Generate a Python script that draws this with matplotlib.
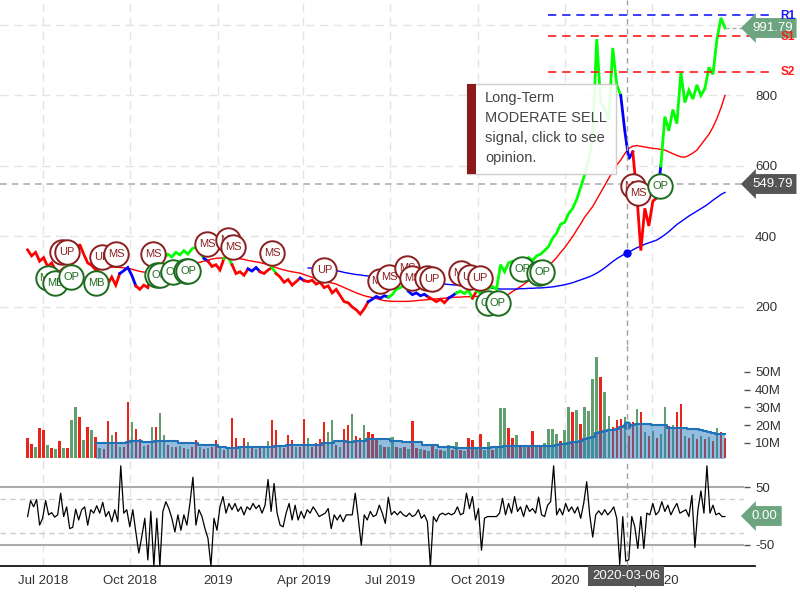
import numpy as np
import pandas as pd
import matplotlib
matplotlib.use('Agg')
import matplotlib.pyplot as plt
from matplotlib.patches import Rectangle

plt.rcParams['font.family'] = ['Liberation Sans', 'DejaVu Sans']
plt.rcParams['axes.unicode_minus'] = False

START, END = '2018-06-15', '2020-06-17'

# closing price, one value every ~3 trading days
price = [362, 345, 355, 330, 340, 315, 325, 305, 300, 310,
         298, 320, 345, 378, 350, 325, 318, 305, 298, 290,
         265, 285, 262, 295, 303, 312, 290, 260, 250, 262,
         255, 300, 330, 345, 338, 350, 342, 355, 348, 360,
         350, 365, 370, 355, 338, 330, 315, 320, 305, 338,
         342, 320, 295, 300, 290, 308, 302, 312, 300, 295,
         305, 312, 295, 285, 270, 278, 262, 272, 282, 275,
         272, 276, 265, 270, 255, 260, 240, 250, 232, 215,
         212, 200, 192, 180, 195, 215, 222, 230, 225, 232,
         228, 235, 250, 255, 262, 245, 235, 240, 232, 236,
         228, 222, 215, 222, 212, 225, 232, 240, 245, 238,
         248, 225, 245, 240, 255, 252, 258, 250, 320, 300,
         325, 330, 318, 335, 325, 340, 332, 345, 350, 360,
         372, 395, 410, 435, 440, 465, 480, 505, 540, 575,
         620, 680, 960, 780, 760, 730, 935, 830, 800, 700,
         620, 640, 520, 360, 480, 430, 500, 510, 600, 740,
         700, 760, 720, 865, 780, 815, 790, 830, 800, 820,
         880, 860, 960, 1020, 991.79]

# signal state: S = sell, H = hold, B = buy  (run lengths)
signal_runs = [('S', 23), ('H', 4), ('S', 4), ('B', 13), ('H', 1), ('S', 4),
               ('B', 2), ('S', 4), ('H', 3), ('S', 3), ('B', 1), ('S', 6),
               ('H', 1), ('S', 16), ('H', 5), ('B', 5), ('H', 5), ('S', 5),
               ('H', 2), ('B', 4), ('S', 1), ('B', 36), ('H', 3), ('S', 6),
               ('H', 1), ('B', 17)]

# 50-day average from sample 18, 200-day average from sample 70
ma50 = [315, 315, 314, 313, 313, 312, 311, 310, 307, 304,
        301, 299, 299, 300, 302, 304, 306, 309, 312, 315,
        318, 320, 322, 324, 325, 327, 330, 333, 336, 338,
        339, 339, 339, 339, 338, 337, 335, 332, 330, 328,
        326, 323, 320, 316, 312, 308, 305, 302, 300, 298,
        296, 292, 288, 284, 280, 277, 273, 270, 268, 265,
        260, 255, 250, 245, 240, 236, 232, 229, 227, 224,
        221, 218, 217, 216, 216, 216, 216, 216, 217, 218,
        219, 220, 221, 222, 223, 224, 225, 226, 227, 228,
        228, 229, 229, 230, 230, 231, 231, 230, 229, 227,
        226, 230, 236, 244, 251, 258, 266, 274, 283, 292,
        300, 309, 318, 328, 340, 355, 368, 384, 400, 418,
        436, 455, 470, 485, 505, 525, 545, 565, 585, 603,
        617, 635, 650, 656, 658, 656, 654, 652, 650, 649,
        647, 645, 640, 635, 630, 626, 625, 630, 637, 645,
        660, 675, 690, 710, 735, 765, 800]
ma200 = [311, 310, 309, 308, 307, 306, 304, 303, 301, 298,
         296, 294, 292, 291, 289, 288, 287, 285, 284, 283,
         282, 281, 280, 279, 278, 277, 276, 274, 272, 270,
         269, 268, 267, 266, 265, 264, 263, 262, 261, 260,
         259, 258, 257, 256, 255, 254, 253, 252, 251, 251,
         251, 251, 251, 252, 252, 253, 253, 254, 254, 255,
         256, 257, 259, 261, 263, 266, 269, 273, 277, 281,
         285, 290, 296, 303, 311, 320, 329, 337, 344, 350,
         355, 362, 368, 373, 378, 382, 386, 390, 397, 405,
         414, 424, 434, 442, 450, 458, 465, 472, 479, 486,
         494, 503, 511, 519, 525]

# volume in millions, same sampling as price
volume = [12.8, 9.4, 7.9, 18.5, 17.4, 9.1, 7.0, 6.5, 11.1, 7.4,
          7.0, 23.0, 30.1, 24.5, 11.5, 18.8, 17.4, 13.2, 7.0, 6.5,
          22.4, 14.4, 16.0, 8.0, 7.5, 32.9, 22.0, 17.8, 12.3, 8.5,
          9.0, 18.8, 18.8, 26.7, 14.4, 9.0, 8.0, 7.9, 8.5, 7.0,
          6.5, 8.0, 11.5, 7.5, 6.5, 7.0, 8.0, 11.5, 7.0, 6.0,
          6.5, 23.9, 12.6, 8.0, 12.6, 10.7, 7.0, 6.5, 7.5, 8.0,
          11.0, 23.0, 17.4, 8.0, 7.0, 14.4, 11.5, 7.5, 8.0, 23.6,
          12.6, 8.0, 9.8, 12.1, 21.7, 16.0, 23.0, 9.0, 8.0, 18.0,
          19.9, 26.2, 13.9, 12.6, 20.1, 16.0, 15.0, 12.6, 9.0, 8.0,
          7.5, 13.6, 8.0, 7.0, 7.5, 6.5, 22.4, 7.0, 6.5, 6.0,
          5.5, 9.0, 6.5, 6.0, 5.5, 9.0, 6.0, 10.4, 6.0, 5.5,
          12.6, 11.5, 6.5, 15.1, 6.0, 10.4, 6.0, 7.0, 29.5, 29.5,
          18.3, 12.6, 14.4, 8.0, 7.5, 8.0, 16.6, 8.5, 9.0, 10.0,
          17.8, 17.8, 14.8, 11.0, 17.4, 30.1, 27.7, 28.6, 20.6, 30.5,
          28.2, 45.9, 58.6, 47.3, 39.0, 25.2, 19.2, 23.0, 23.4, 24.9,
          14.0, 22.1, 29.0, 27.7, 16.0, 14.0, 17.0, 13.0, 15.0, 30.1,
          19.7, 20.3, 27.7, 31.8, 14.0, 13.0, 15.0, 12.0, 14.0, 12.0,
          13.5, 11.0, 18.3, 16.3, 13.0]
# g = up day, r = down day
day_dir = ("rrgrrgrgrg" "rggrgrgrgr" "rgrgrrgrrg" "rgrggrgrgr" "grrgrgrrgr"
           "grrgrgrgrg" "grrgrrrgrr" "grrrrggrgr" "rgrrgrrrgr" "ggrgrgrrgr"
           "grgrggrgrg" "rrgrggrggg" "rrgrgrrgrg" "gggrggrgrg" "gggrggrrrg"
           "rrgrgrgrgg" "rgrrgrgrgr" "grgrr")
# volume average from sample 17
vol_ma = [9.8, 9.8, 9.8, 9.8, 9.8, 9.8, 9.8, 9.8, 10.8, 11.3,
          11.3, 11.3, 10.8, 10.4, 10.4, 11.1, 11.1, 11.1, 11.1, 11.1,
          11.1, 9.8, 9.8, 9.8, 9.8, 9.8, 8.9, 8.9, 8.9, 8.9,
          8.9, 7.9, 7.9, 7.0, 7.0, 7.0, 7.6, 7.6, 7.6, 7.6,
          7.6, 7.6, 7.6, 7.6, 7.6, 8.3, 8.3, 8.3, 8.7, 8.7,
          8.7, 8.7, 8.7, 8.7, 8.7, 8.7, 8.7, 10.2, 10.2, 10.2,
          11.0, 11.0, 11.0, 10.4, 10.4, 11.3, 11.3, 11.3, 12.1, 12.1,
          12.1, 12.1, 12.1, 12.1, 11.3, 11.3, 11.3, 10.4, 10.4, 10.4,
          10.4, 10.4, 8.9, 8.9, 8.9, 8.9, 7.9, 7.9, 7.9, 7.9,
          7.0, 7.0, 7.0, 7.0, 7.0, 7.0, 7.0, 7.0, 7.0, 7.6,
          7.6, 7.6, 8.3, 8.3, 8.3, 8.3, 8.3, 8.3, 8.5, 8.5,
          8.5, 8.5, 8.5, 8.5, 8.5, 9.0, 9.3, 9.6, 10.0, 10.4,
          10.8, 11.3, 12.0, 12.6, 13.5, 15.5, 16.3, 16.8, 17.4, 17.6,
          17.8, 18.8, 19.5, 20.0, 20.4, 20.6, 20.6, 20.6, 20.5, 20.3,
          20.3, 20.3, 20.0, 18.2, 18.2, 18.2, 18.2, 18.2, 18.0, 17.8,
          17.8, 17.6, 17.0, 16.3, 15.5, 14.8, 14.8, 14.8]

# momentum oscillator, one value every ~2 trading days
osc = [-1, 27, 16, 29, -16, -4, 27, 2, 6, -2, 2, 40, -1, 16, -22, -20, 12, -7, 11, 16,
       -16, 11, 5, 18, 5, 24, -1, 8, -10, 11, -10, 88, 5, 11, -19, 11, -28, -65, -36, -4,
       -77, 8, -88, -4, -88, 8, 25, 13, -4, -28, 2, -25, 2, -16, 22, 68, -16, 11, -1, -22,
       -39, -88, -4, -25, 16, 34, 5, 22, 11, 22, 8, 16, 2, 16, 11, 22, 13, 19, 5, 19,
       64, 8, 57, 5, -16, -19, 5, 22, -7, 19, -7, 8, -4, 11, 5, 16, 8, -1, 2, 5,
       13, -22, 2, -7, 2, -10, 2, 2, 2, 40, -4, -51, 2, -7, 8, -1, 2, 19, 5, -13,
       33, 2, 8, 2, 8, 2, -1, 5, -1, 2, 11, -4, 2, -10, -88, -1, -10, 2, 5, 2,
       5, 2, 5, 16, 2, 5, 40, 13, 34, -7, 13, -60, -4, -1, -1, -1, -1, 5, 31, 2,
       22, 5, 34, 8, 16, -1, 19, 8, 13, 5, 33, 2, -1, 19, 25, 88, 2, 13, 2, 22,
       8, 16, 5, 16, -4, 22, 60, 2, -37, 2, 9, 2, 11, 2, 8, 16, -4, -85, -1, -79,
       -77, -1, -19, -57, -1, -57, 5, 2, 22, 2, 8, 25, 8, 19, 2, 13, 22, 5, 8, 11,
       -1, 36, -55, 11, 44, 5, 88, 5, 19, 2, 5, -1, -1]

# opinion markers
marker_dates = ['2018-07-06', '2018-07-14', '2018-07-21', '2018-07-26', '2018-07-31',
                '2018-08-26', '2018-09-01', '2018-09-16', '2018-10-25', '2018-10-29',
                '2018-11-01', '2018-11-15', '2018-11-29', '2018-12-01', '2018-12-21',
                '2019-01-12', '2019-01-17', '2019-02-27', '2019-04-23', '2019-06-20',
                '2019-06-30', '2019-07-19', '2019-07-24', '2019-08-09', '2019-08-14',
                '2019-09-14', '2019-09-23', '2019-10-03', '2019-10-12', '2019-10-22',
                '2019-11-17', '2019-12-05', '2019-12-08', '2020-03-12', '2020-03-18',
                '2020-04-10']
marker_prices = [282, 268, 356, 356, 285, 268, 342, 350, 350, 291,
                 291, 299, 302, 302, 379, 390, 370, 353, 305, 274,
                 285, 311, 282, 282, 279, 296, 285, 282, 211, 211,
                 308, 296, 299, 543, 523, 543]
marker_labels = ['MB', 'MB', 'UP', 'UP', 'OP', 'MB', 'UP', 'MS', 'MS', 'OP',
                 'OP', 'OP', 'OP', 'OP', 'MS', 'MS', 'MS', 'MS', 'UP', 'MS',
                 'MS', 'MS', 'MS', 'UP', 'UP', 'MS', 'UP', 'UP', 'OP', 'OP',
                 'OP', 'OP', 'OP', 'MS', 'MS', 'OP']

levels = [('R1', 1027), ('S1', 968), ('S2', 866)]
last_price = 991.79
cross_price = 549.79
cross_date = '2020-03-06'
cross_ma200 = 353
cross_vol_ma = 20.1

quarters = ['2018-07-01', '2018-10-01', '2019-01-01', '2019-04-01',
            '2019-07-01', '2019-10-01', '2020-01-01', '2020-04-01']
quarter_labels = ['Jul 2018', 'Oct 2018', '2019', 'Apr 2019',
                  'Jul 2019', 'Oct 2019', '2020', 'Apr 2020']

# ---------------------------------------------------------------
days = pd.date_range(START, END, periods=len(price))
osc_days = pd.date_range(START, END, periods=len(osc))
qd = pd.to_datetime(quarters)
cd = pd.Timestamp(cross_date)
x0, x1 = pd.Timestamp('2018-05-17'), pd.Timestamp('2020-07-07')

W = 744 / 800
fig = plt.figure(figsize=(8, 6), dpi=100)
ax_p = fig.add_axes([0, 1 - 345 / 600, W, 345 / 600])
ax_v = fig.add_axes([0, 1 - 458 / 600, W, 113 / 600])
ax_o = fig.add_axes([0, 1 - 566 / 600, W, 106 / 600])

GRID = '#e4e4e4'
for ax in (ax_p, ax_v, ax_o):
    ax.set_facecolor('none')
    ax.set_xlim(x0, x1)
    for s in ax.spines.values():
        s.set_visible(False)
    for d in qd:
        ax.axvline(d, color=GRID, lw=1, ls=(0, (6, 4)), zorder=0)
    ax.axvline(cd, color='#a0a0a0', lw=1, ls=(0, (4, 3)), zorder=6)
    ax.tick_params(axis='x', bottom=False, labelbottom=False)
    ax.yaxis.tick_right()

# ---- price panel
ax_p.set_ylim(92.2, 1070.9)
for v in [200, 400, 600, 800, 1000]:
    ax_p.axhline(v, color=GRID, lw=1, ls=(0, (6, 4)), zorder=0)
ax_p.set_yticks([200, 400, 600, 800])
ax_p.tick_params(axis='y', length=0, pad=8, labelsize=9.5, labelcolor='#333333')

ax_p.plot(days[18:], ma50, color='#ff0000', lw=1, zorder=3)
ax_p.plot(days[70:], ma200, color='#0000ff', lw=1, zorder=3)

sig = ''.join(k * n for k, n in signal_runs)
sig_color = {'S': '#ff0000', 'H': '#0000ff', 'B': '#00ff00'}
start = 0
for k in range(1, len(sig) + 1):
    if k == len(sig) or sig[k] != sig[start]:
        ax_p.plot(days[start:k + 1], price[start:k + 1], color=sig_color[sig[start]],
                  lw=2, zorder=4, solid_joinstyle='miter')
        start = k

ax_p.axhline(cross_price, color='#b0b0b0', lw=1.2, ls=(0, (4, 3)), zorder=6)
ax_p.plot([cd], [cross_ma200], 'o', color='#0000ff', ms=5, zorder=7)

for name, lv in levels:
    c = '#1a1aff' if name.startswith('R') else '#ff1a1a'
    ax_p.plot([pd.Timestamp('2019-12-14'), pd.Timestamp('2020-08-04')], [lv, lv],
              color=c, lw=1.2, ls=(0, (5, 3.5)), clip_on=False, zorder=5)
ax_p.plot([days[-1], pd.Timestamp('2020-07-05')], [last_price, last_price],
          color='#aaaaaa', lw=1, ls=(0, (3, 2)), clip_on=False, zorder=5)

for i, (d, p, lab) in enumerate(zip(marker_dates, marker_prices, marker_labels)):
    c = '#8b1f1f' if lab in ('UP', 'MS') else '#1d6b1d'
    ax_p.scatter([pd.Timestamp(d)], [p], s=310, facecolor='white', edgecolor=c,
                 linewidth=1.4, zorder=10 + 2 * i)
    ax_p.text(pd.Timestamp(d), p, lab, color=c, fontsize=8, ha='center', va='center',
              zorder=11 + 2 * i)

# ---- volume panel
ax_v.set_ylim(1.55, 65.2)
bar_col = ['#5f9f70' if c == 'g' else '#e8251b' for c in day_dir]
ax_v.bar(days, volume, width=2.6, color=bar_col, zorder=2)
ax_v.fill_between(days[17:], vol_ma, 0, step='mid', color='#2a7bbf', alpha=0.5, lw=0, zorder=3)
ax_v.step(days[17:], vol_ma, where='mid', color='#1f72b8', lw=1.5, zorder=4)
ax_v.plot([cd], [cross_vol_ma], 'o', color='#1f72b8', ms=5, zorder=5)
ax_v.set_yticks([10, 20, 30, 40, 50])
ax_v.set_yticklabels(['10M', '20M', '30M', '40M', '50M'])
ax_v.tick_params(axis='y', length=4, width=1, color='#555555', pad=4,
                 labelsize=9.5, labelcolor='#333333')

# ---- oscillator panel
ax_o.set_ylim(-87.7, 98.2)
for v in (50, -50):
    ax_o.axhline(v, color='#aaaaaa', lw=1.5, zorder=1)
for v in (30, -30):
    ax_o.axhline(v, color='#cccccc', lw=1, ls=(0, (4, 3)), zorder=1)
ax_o.plot(osc_days, osc, color='black', lw=0.9, zorder=3)
ax_o.set_yticks([50, -50])
ax_o.tick_params(axis='y', length=4, width=1, color='#555555', pad=4,
                 labelsize=9.5, labelcolor='#333333')
ax_o.plot([x0, pd.Timestamp('2020-07-19')], [-87.7, -87.7], color='black', lw=1.2,
          clip_on=False, zorder=4)
ax_o.set_xticks(qd)
ax_o.set_xticklabels(quarter_labels)
ax_o.tick_params(axis='x', bottom=False, labelbottom=True, pad=3,
                 labelsize=9.5, labelcolor='#333333')


# ---- overlays in pixel coordinates
def fx(x):
    return x / 800


def fy(y):
    return 1 - y / 600


def tag(x, y, s, fc):
    fig.text(fx(x), fy(y), s, color='white', fontsize=9.5, ha='left', va='center',
             zorder=30, bbox=dict(boxstyle='larrow,pad=0.3', fc=fc, ec='none'))


tag(752, 28, '%.2f' % last_price, '#6ca57f')
tag(752, 184, '%.2f' % cross_price, '#555555')
tag(752, 516, '0.00', '#6ca57f')

for name, lv in levels:
    c = '#1a1aff' if name.startswith('R') else '#ff1a1a'
    fig.text(fx(795), fy(16 if name == 'R1' else (37 if name == 'S1' else 72)), name,
             color=c, fontsize=8.5, fontweight='bold', ha='right', va='center', zorder=35)

fig.text(fx(626), fy(576), cross_date, color='white', fontsize=9.5, ha='center', va='center',
         zorder=30, bbox=dict(boxstyle='square,pad=0.3', fc='#555555', ec='none'))

fig.add_artist(Rectangle((fx(467), fy(174)), 149 / 800, 90 / 600, transform=fig.transFigure,
                         fc='white', ec='#c8c8c8', lw=1, alpha=0.9, zorder=20))
fig.add_artist(Rectangle((fx(467), fy(174)), 9 / 800, 90 / 600, transform=fig.transFigure,
                         fc='#8b1a1a', ec='none', zorder=21))
for j, line in enumerate(['Long-Term', 'MODERATE SELL', 'signal, click to see', 'opinion.']):
    fig.text(fx(485), fy(98 + 20 * j), line, color='#444444', fontsize=10.5,
             ha='left', va='center', zorder=22)

fig.savefig('out.png', dpi=100)
